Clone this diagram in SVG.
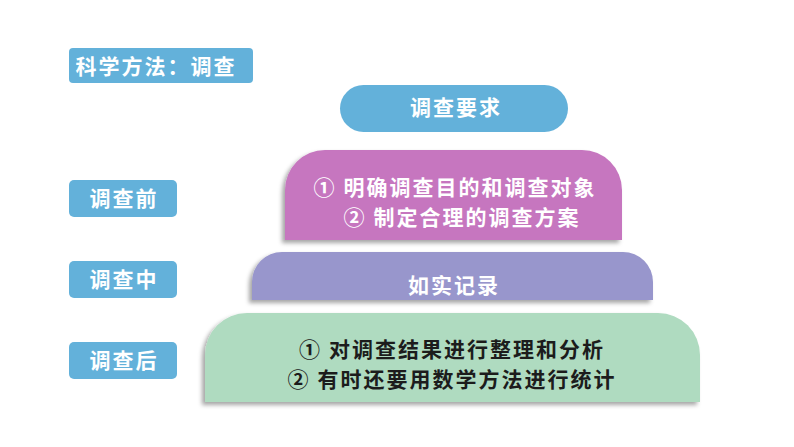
<svg xmlns="http://www.w3.org/2000/svg" width="794" height="447" viewBox="0 0 794 447">
<defs>
<filter id="sh" x="-10%" y="-20%" width="120%" height="140%">
<feDropShadow dx="-3" dy="3" stdDeviation="2" flood-color="#000" flood-opacity="0.35"/>
</filter>
</defs>
<style>
text{font-family:"Noto Sans CJK SC","Noto Sans",sans-serif;font-weight:bold;font-size:21px;letter-spacing:2px;text-anchor:middle}
.w{fill:#ffffff}
.d{fill:#1c1c1c}
.lab{fill:#63B1DA}
</style>
<rect width="794" height="447" fill="#ffffff"/>
<g id="title">
<rect class="lab" x="69" y="48" width="184" height="35" rx="4"/>
<text class="w" x="156" y="74">科学方法：调查</text>
</g>
<g id="req">
<rect class="lab" x="340" y="85" width="228" height="47" rx="23.5"/>
<text class="w" x="456" y="115">调查要求</text>
</g>
<g id="before-label">
<rect class="lab" x="69" y="180" width="108" height="37" rx="5"/>
<text class="w" x="124" y="206">调查前</text>
</g>
<g id="during-label">
<rect class="lab" x="69" y="261" width="108" height="37" rx="5"/>
<text class="w" x="124" y="287">调查中</text>
</g>
<g id="after-label">
<rect class="lab" x="69" y="342" width="108" height="37" rx="5"/>
<text class="w" x="124" y="368">调查后</text>
</g>
<g id="before">
<path d="M285 240 V190 A40 40 0 0 1 325 150 H582 A40 40 0 0 1 622 190 V240 Z" fill="#C676BF" filter="url(#sh)"/>
<text class="w" x="455" y="195">① 明确调查目的和调查对象</text>
<text class="w" x="462" y="225">② 制定合理的调查方案</text>
</g>
<g id="during">
<path d="M252 300 V282 A30 30 0 0 1 282 252 H623 A30 30 0 0 1 653 282 V300 Z" fill="#9896CC" filter="url(#sh)"/>
<text class="w" x="454" y="293">如实记录</text>
</g>
<g id="after">
<path d="M205 402 V355 A42 42 0 0 1 247 313 H658 A42 42 0 0 1 700 355 V402 Z" fill="#AFDBC0" filter="url(#sh)"/>
<text class="d" x="452" y="357">① 对调查结果进行整理和分析</text>
<text class="d" x="452" y="387">② 有时还要用数学方法进行统计</text>
</g>
<g id="connectors"></g>
</svg>
